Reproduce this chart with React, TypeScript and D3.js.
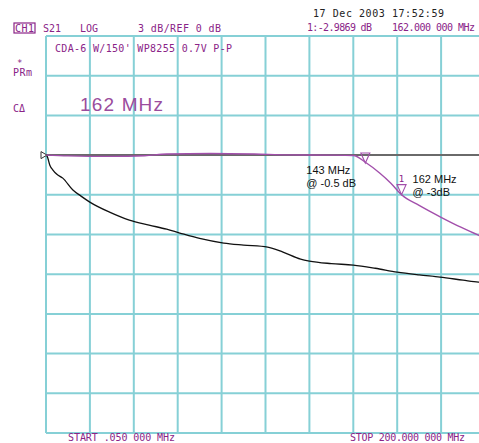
import * as d3 from 'd3'

// S21 sweep, 0.05 .. 200 MHz, 3 dB/div, REF 0 dB
const filterTrace: [number, number][] = [
  [0.05, 0], [10, -0.06], [30, -0.1], [45, -0.05], [55, 0.08], [75, 0.12],
  [95, 0.08], [110, 0.02], [130, 0], [140, -0.03], [146, -0.6], [152, -1.35],
  [157, -2.1], [162, -2.99], [170, -3.8], [180, -4.7], [189, -5.45], [197, -6.05], [200, -6.25],
]
const cableTrace: [number, number][] = [
  [0.05, 0], [0.6, -0.1], [1.8, -0.76], [3.2, -1.13], [5, -1.45], [7.7, -1.74],
  [12.3, -2.64], [16, -3.1], [20, -3.55], [29, -4.31], [38, -4.91], [47, -5.29],
  [55, -5.6], [61, -5.89], [70, -6.3], [81, -6.65], [90, -6.8], [101, -6.95],
  [108, -7.33], [116, -7.86], [120, -8.01], [130, -8.2], [140, -8.31], [150, -8.55],
  [160, -8.84], [170, -9.05], [179.5, -9.22], [190, -9.45], [197, -9.6], [200, -9.65],
]
const markerFreqs = [162, 145.5]
const markerDb = [-2.99, -0.6]
const markerNotes = [['162 MHz', '@ -3dB'], ['143 MHz', '@ -0.5 dB']]
const startMHz = 0.05
const stopMHz = 200
const refDb = 0
const dbPerDiv = 3

const PURPLE_TXT = '#8a2387'
const TRACE = '#a24fab'
const GRID = '#86d0d6'
const MONO = '"DejaVu Sans Mono", monospace'

export default function App() {
  const x = d3.scaleLinear().domain([startMHz, stopMHz]).range([46, 485])
  const y = d3.scaleLinear().domain([refDb - 7 * dbPerDiv, refDb + 3 * dbPerDiv]).range([433, 36])

  const xDivs = d3.range(0, 11).map(i => startMHz + (i * (stopMHz - startMHz)) / 10)
  const yDivs = d3.range(-7, 4).map(i => refDb + i * dbPerDiv)

  const line = d3.line<[number, number]>().x(d => x(d[0])).y(d => y(d[1])).curve(d3.curveMonotoneX)

  return (
    <div style={{ position: 'fixed', left: 0, top: 0 }}>
      <svg width={479} height={443} style={{ display: 'block', background: '#fff' }}>
        {/* graticule */}
        <g stroke={GRID} strokeWidth={2}>
          {xDivs.map((f, i) => (
            <line key={'v' + i} x1={x(f)} x2={x(f)} y1={y.range()[1]} y2={y.range()[0]} />
          ))}
          {yDivs.map((v, i) =>
            v === refDb ? null : <line key={'h' + i} x1={46} x2={485} y1={y(v)} y2={y(v)} />
          )}
        </g>
        {/* reference line */}
        <line x1={46} x2={479} y1={y(refDb)} y2={y(refDb)} stroke="#6a6a6a" strokeWidth={2} />
        <path d={`M${41},${y(refDb) - 3.5} L${47},${y(refDb)} L${41},${y(refDb) + 3.5} Z`} fill="#fff" stroke="#333" strokeWidth={1} />

        {/* traces */}
        <path d={line(cableTrace) ?? ''} fill="none" stroke="#111" strokeWidth={1.3} />
        <path d={line(filterTrace) ?? ''} fill="none" stroke={TRACE} strokeWidth={1.4} />

        {/* markers */}
        {markerFreqs.map((f, i) => {
          const mx = x(f)
          const my = y(markerDb[i])
          return (
            <g key={'m' + i}>
              <path d={`M${mx - 4.5},${my - 10} L${mx + 4.5},${my - 10} L${mx},${my} Z`} fill="none" stroke={TRACE} strokeWidth={1.1} />
              {i === 0 && (
                <text x={mx} y={my - 13} textAnchor="middle" fontFamily={MONO} fontSize={9} fill={PURPLE_TXT}>1</text>
              )}
            </g>
          )
        })}
        {markerNotes.map((n, i) => {
          const tx = i === 0 ? x(markerFreqs[0]) + 11 : x(markerFreqs[1]) - 59
          const ty = i === 0 ? 183 : 174
          return (
            <g key={'n' + i} fontFamily="Liberation Sans, Arial, sans-serif" fontSize={11} fill="#111">
              <text x={tx} y={ty}>{n[0]}</text>
              <text x={tx} y={ty + 13}>{n[1]}</text>
            </g>
          )
        })}

        {/* header */}
        <g fontFamily={MONO} fontSize={10} fill={PURPLE_TXT}>
          <rect x={14} y={23} width={21} height={10} fill="none" stroke={PURPLE_TXT} strokeWidth={1.2} />
          <text x={15} y={32} textLength={19}>CH1</text>
          <text x={43} y={32} textLength={18}>S21</text>
          <text x={80} y={32} textLength={18}>LOG</text>
          <text x={138} y={32} textLength={83}>3 dB/REF 0 dB</text>
          <text x={307} y={31} textLength={65}>1:-2.9869 dB</text>
          <text x={392} y={31} textLength={83}>162.000 000 MHz</text>
          <text x={55} y={52} textLength={177}>CDA-6 W/150' WP8255 0.7V P-P</text>
          <text x={17} y={66} fontSize={9}>*</text>
          <text x={13} y={76} textLength={19}>PRm</text>
          <text x={13} y={112}>C&#916;</text>
          <text x={68} y={441} textLength={107}>START  .050 000 MHz</text>
          <text x={350} y={441} textLength={115}>STOP  200.000 000 MHz</text>
        </g>
        <text x={313} y={17} fontFamily={MONO} fontSize={10} fill="#222" textLength={131}>17 Dec 2003  17:52:59</text>
        <text x={80} y={111} fontFamily="Liberation Sans, Arial, sans-serif" fontSize={19} fontWeight={300} fill="#9b4c9d" textLength={83}>162 MHz</text>
      </svg>
    </div>
  )
}
